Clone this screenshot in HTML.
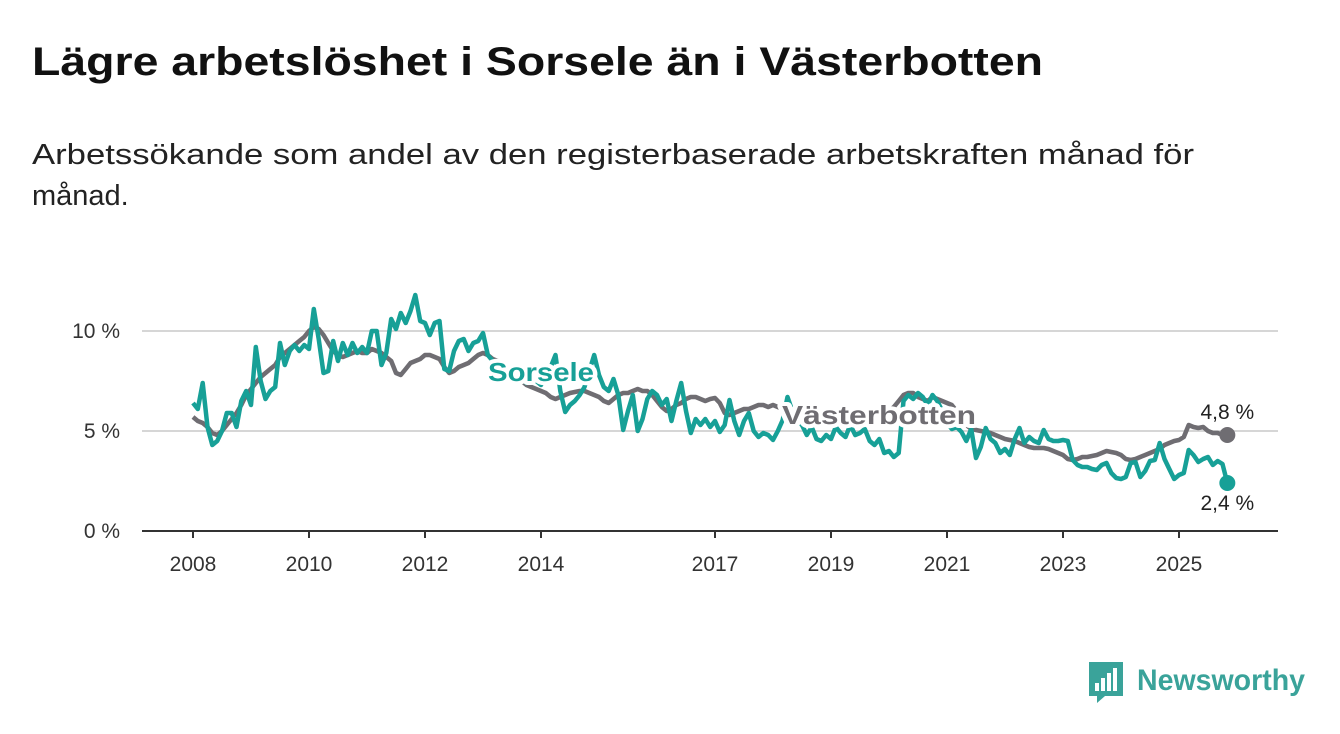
<!DOCTYPE html>
<html><head><meta charset="utf-8"><style>
body{margin:0;background:#fff;}
svg{display:block;font-family:"Liberation Sans",sans-serif;}
</style></head><body>
<svg width="1340" height="734" viewBox="0 0 1340 734">
<text x="32" y="75" font-size="40" font-weight="bold" fill="#111" textLength="1011" lengthAdjust="spacingAndGlyphs">Lägre arbetslöshet i Sorsele än i Västerbotten</text>
<text x="32" y="164" font-size="29" fill="#222" textLength="1162" lengthAdjust="spacingAndGlyphs">Arbetssökande som andel av den registerbaserade arbetskraften månad för</text>
<text x="32" y="205" font-size="29" fill="#222">månad.</text>
<g id="grid"></g><g id="xaxis"></g><g id="lines"></g><g id="labels"></g>
<g>
<path d="M1089 662 h34 v34 h-18 l-8 7 v-7 h-8 z" fill="#3aa39a"/>
<rect x="1095" y="683" width="4" height="8" fill="#fff"/><rect x="1101" y="678" width="4" height="13" fill="#fff"/><rect x="1107" y="673" width="4" height="18" fill="#fff"/><rect x="1113" y="668" width="4" height="23" fill="#fff"/>
<text x="1137" y="690" font-size="30" font-weight="bold" fill="#3aa39a" textLength="168" lengthAdjust="spacingAndGlyphs">Newsworthy</text>
</g>
</svg>
<script>
const yTicks=[0,5,10];
const yTickLabels=["0 %","5 %","10 %"];
const xTickYears=[2008,2010,2012,2014,2017,2019,2021,2023,2025];
const startYear=2008;
const sorsele=[6.4,6.1,7.4,5.2,4.3,4.5,5.0,5.9,5.9,5.2,6.5,7.0,
6.3,9.2,7.5,6.6,7.0,7.2,9.4,8.3,9.0,9.3,9.0,9.3,
9.1,11.1,9.6,7.9,8.0,9.5,8.5,9.4,8.8,9.4,8.9,9.2,
8.9,10.0,10.0,8.3,8.9,10.6,10.1,10.9,10.4,11.0,11.8,10.5,
10.4,9.8,10.4,10.5,8.1,8.0,9.0,9.5,9.6,9.0,9.4,9.5,
9.9,8.8,8.5,8.2,8.4,8.0,7.8,8.2,7.6,7.4,7.8,7.5,
7.3,7.8,8.2,8.8,7.0,5.95,6.3,6.5,6.8,7.2,8.0,8.8,
7.8,7.2,7.0,7.6,6.8,5.05,6.0,6.8,5.0,5.6,6.6,7.0,
6.8,6.3,6.6,5.5,6.5,7.4,6.0,4.9,5.6,5.3,5.6,5.2,
5.5,4.95,5.3,6.55,5.5,4.8,5.5,5.9,5.0,4.7,4.9,4.8,
4.55,5.0,5.55,6.7,6.0,5.5,5.3,4.8,5.2,4.6,4.5,4.8,
4.6,5.2,4.9,4.7,5.3,4.8,4.9,5.1,4.5,4.3,4.6,3.9,
4.0,3.7,3.9,6.5,6.8,6.6,6.9,6.7,6.3,6.8,6.5,6.0,
5.4,5.1,5.2,4.95,4.5,5.1,3.65,4.2,5.15,4.6,4.4,3.9,
4.1,3.8,4.6,5.15,4.4,4.7,4.5,4.4,5.05,4.6,4.5,4.5,
4.55,4.5,3.55,3.3,3.2,3.2,3.1,3.05,3.3,3.4,2.9,2.65,
2.6,2.7,3.4,3.45,2.7,3.0,3.5,3.55,4.4,3.6,3.1,2.6,
2.8,2.9,4.05,3.8,3.45,3.6,3.7,3.3,3.5,3.35,2.4];
const vasterbotten=[5.7,5.5,5.4,5.2,4.9,4.8,5.0,5.3,5.6,5.9,6.3,6.8,
7.1,7.4,7.7,7.9,8.1,8.3,8.7,8.9,9.1,9.3,9.5,9.7,
10.0,10.2,10.1,9.8,9.4,9.0,8.8,8.7,8.8,8.9,9.0,8.9,
8.9,9.1,9.0,8.9,8.7,8.5,7.9,7.8,8.1,8.4,8.5,8.6,
8.8,8.8,8.7,8.6,8.2,7.9,8.0,8.2,8.3,8.4,8.6,8.8,
8.9,8.8,8.6,8.5,8.3,8.1,7.9,7.7,7.5,7.3,7.2,7.1,
7.0,6.9,6.7,6.6,6.7,6.8,6.9,6.95,7.0,7.0,6.9,6.8,
6.7,6.5,6.4,6.6,6.8,6.9,6.9,7.0,7.1,7.0,7.0,6.8,
6.5,6.2,6.0,6.1,6.3,6.4,6.6,6.7,6.7,6.6,6.5,6.6,
6.65,6.4,5.9,5.8,5.9,6.0,6.1,6.1,6.2,6.3,6.3,6.2,
6.3,6.2,6.1,6.0,6.0,5.9,5.9,5.8,5.8,5.7,5.7,5.8,
5.8,5.7,5.7,5.6,5.6,5.5,5.5,5.6,5.6,5.7,5.8,5.9,
6.0,6.2,6.5,6.8,6.9,6.9,6.7,6.6,6.5,6.7,6.6,6.5,
6.4,6.3,6.0,5.6,5.3,5.1,5.05,5.0,4.95,4.9,4.8,4.7,
4.6,4.55,4.5,4.4,4.3,4.2,4.15,4.15,4.15,4.1,4.0,3.9,
3.8,3.6,3.55,3.6,3.7,3.7,3.75,3.8,3.9,4.0,3.95,3.9,
3.8,3.6,3.55,3.6,3.7,3.8,3.9,4.0,4.1,4.3,4.4,4.5,
4.55,4.7,5.3,5.2,5.15,5.2,5.0,4.9,4.9,4.8,4.8];

const NS="http://www.w3.org/2000/svg";
const X=t=>193+(t-startYear)*58;
const Y=v=>531-v*20;
const Xi=i=>X(startYear+i/12);
function mk(tag,attrs,parent,txt){const e=document.createElementNS(NS,tag);for(const k in attrs)e.setAttribute(k,attrs[k]);if(txt!==undefined)e.textContent=txt;parent.appendChild(e);return e;}
const grid=document.getElementById('grid'),xa=document.getElementById('xaxis'),lines=document.getElementById('lines'),lab=document.getElementById('labels');
yTicks.forEach((v,k)=>{
  const g=mk('line',{x1:142,x2:1278,y1:Y(v),y2:Y(v),stroke:v===0?'#333':'#d6d6d6','stroke-width':2},grid);
  
  
  const t=mk('text',{x:120,y:Y(v)+7,'text-anchor':'end','font-size':21,fill:'#333'},grid,yTickLabels[k]);
  
  
});
xTickYears.forEach(yr=>{
  const tk=mk('line',{x1:X(yr),x2:X(yr),y1:531,y2:538,stroke:'#333','stroke-width':2},xa);
  
  
  const t=mk('text',{x:X(yr),y:571,'text-anchor':'middle','font-size':21,fill:'#333'},xa,String(yr));
  
  
});
function pathOf(arr){return arr.map((v,i)=>(i?'L':'M')+Xi(i).toFixed(1)+' '+Y(v).toFixed(1)).join(' ');}
const gp=mk('path',{d:pathOf(vasterbotten),fill:'none',stroke:'#6f6d72','stroke-width':4.5,'stroke-linejoin':'round'},lines);


const tp=mk('path',{d:pathOf(sorsele),fill:'none',stroke:'#17a097','stroke-width':4.5,'stroke-linejoin':'round'},lines);


const nv=vasterbotten.length-1,ns=sorsele.length-1;
const gd=mk('circle',{cx:Xi(nv),cy:Y(vasterbotten[nv]),r:8,fill:'#6f6d72'},lines);


const td=mk('circle',{cx:Xi(ns),cy:Y(sorsele[ns]),r:8,fill:'#17a097'},lines);


const fmt=v=>v.toFixed(1).replace('.',',')+' %';
const gl=mk('text',{x:Xi(nv),y:Y(vasterbotten[nv])-16,'text-anchor':'middle','font-size':21,fill:'#222',stroke:'#fff','stroke-width':5,'paint-order':'stroke'},lab,fmt(vasterbotten[nv]));


const tl=mk('text',{x:Xi(ns),y:Y(sorsele[ns])+27,'text-anchor':'middle','font-size':21,fill:'#222',stroke:'#fff','stroke-width':5,'paint-order':'stroke'},lab,fmt(sorsele[ns]));


const sl=mk('text',{x:488,y:381,'font-size':26,'font-weight':'bold',fill:'#17a097',stroke:'#fff','stroke-width':8,'stroke-linejoin':'round','paint-order':'stroke',textLength:106,lengthAdjust:'spacingAndGlyphs'},lab,'Sorsele');


const vl=mk('text',{x:782,y:424,'font-size':26,'font-weight':'bold',fill:'#6f6d72',stroke:'#fff','stroke-width':8,'stroke-linejoin':'round','paint-order':'stroke',textLength:194,lengthAdjust:'spacingAndGlyphs'},lab,'Västerbotten');


</script>
</body></html>
